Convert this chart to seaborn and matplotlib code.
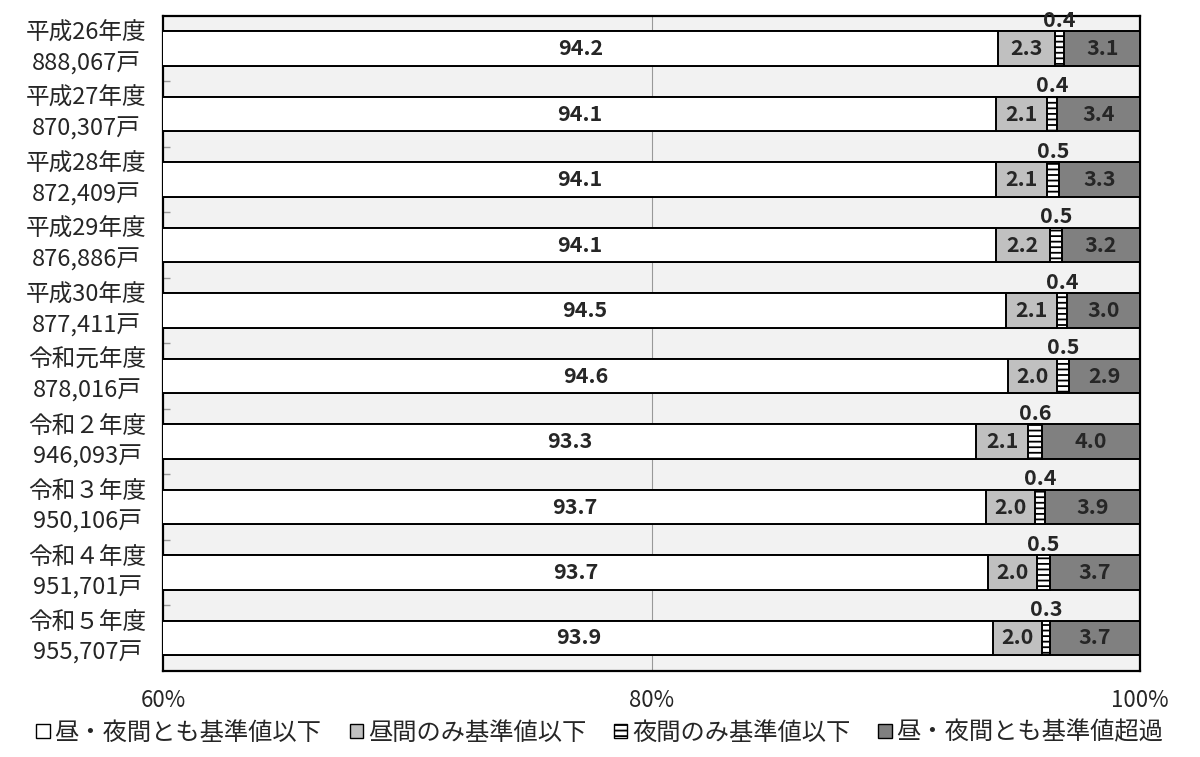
import matplotlib
matplotlib.use("Agg")
import matplotlib.pyplot as plt
from matplotlib.patches import Patch
import numpy as np
import seaborn as sns

years = ["平成26年度", "平成27年度", "平成28年度", "平成29年度", "平成30年度",
         "令和元年度", "令和２年度", "令和３年度", "令和４年度", "令和５年度"]
households = ["888,067戸", "870,307戸", "872,409戸", "876,886戸", "877,411戸",
              "878,016戸", "946,093戸", "950,106戸", "951,701戸", "955,707戸"]
both_below = [94.2, 94.1, 94.1, 94.1, 94.5, 94.6, 93.3, 93.7, 93.7, 93.9]
day_only = [2.3, 2.1, 2.1, 2.2, 2.1, 2.0, 2.1, 2.0, 2.0, 2.0]
night_only = [0.4, 0.4, 0.5, 0.5, 0.4, 0.5, 0.6, 0.4, 0.5, 0.3]
both_over = [3.1, 3.4, 3.3, 3.2, 3.0, 2.9, 4.0, 3.9, 3.7, 3.7]
series_names = ["昼・夜間とも基準値以下", "昼間のみ基準値以下", "夜間のみ基準値以下", "昼・夜間とも基準値超過"]
x_ticks = [60, 80, 100]

sns.set_theme(style="white")
plt.rcParams["font.family"] = ["Noto Sans CJK JP", "DejaVu Sans"]
plt.rcParams["hatch.linewidth"] = 1.3

labels = [f"{y}\n{h}" for y, h in zip(years, households)]
vals = np.array([both_below, day_only, night_only, both_over])
# 100% stacked, like the original: normalise each bar to its total
cum = np.cumsum(vals, axis=0) / vals.sum(axis=0) * 100

fig, ax = plt.subplots(figsize=(12, 7.57), dpi=100)
fig.subplots_adjust(left=0.136, right=0.95, top=0.979, bottom=0.114)
ax.set_facecolor("#f2f2f2")

colors = ["white", "#c0c0c0", "white", "#808080"]
hatches = [None, None, "---", None]
for k in [3, 2, 1, 0]:
    sns.barplot(x=cum[k], y=labels, orient="h", color=colors[k], saturation=1,
                edgecolor="black", linewidth=1.4, width=0.53, hatch=hatches[k],
                ax=ax, zorder=3)

ax.set_xlim(60, 100)
ax.set_xticks(x_ticks)
ax.set_xticklabels([f"{t}%" for t in x_ticks], fontsize=16)
ax.tick_params(axis="x", length=0, pad=13)
ax.axvline(80, color="#999999", lw=0.8, zorder=1)

ax.tick_params(axis="y", which="major", length=0, pad=12, labelsize=17)
for t in ax.get_yticklabels():
    t.set_multialignment("center")
    t.set_verticalalignment("center")
    t.set_linespacing(1.42)
ax.set_yticks(np.arange(len(years) - 1) + 0.5, minor=True)
ax.tick_params(axis="y", which="minor", direction="in", length=5, width=1,
               color="#999999", left=True)
ax.set_ylim(len(years) - 0.5, -0.5)
ax.set_xlabel("")
ax.set_ylabel("")

for s in ax.spines.values():
    s.set_color("black")
    s.set_linewidth(1.6)

fs = 15.5
for i in range(len(years)):
    lo = [60, cum[0][i], cum[1][i], cum[2][i]]
    hi = [cum[0][i], cum[1][i], cum[2][i], cum[3][i]]
    for k in [0, 1, 3]:
        ax.text((lo[k] + hi[k]) / 2, i, f"{vals[k][i]:.1f}", ha="center", va="center",
                fontsize=fs, fontweight="bold", zorder=5)
    ax.text((lo[2] + hi[2]) / 2, i - 0.43, f"{vals[2][i]:.1f}", ha="center", va="center",
            fontsize=fs, fontweight="bold", zorder=5)

handles = [Patch(facecolor=c, edgecolor="black", hatch=h, linewidth=1)
           for c, h in zip(colors, hatches)]
fig.legend(handles, series_names, loc="center", bbox_to_anchor=(0.5, 0.032), ncol=4,
           frameon=False, fontsize=17.5, handlelength=0.55, handleheight=0.55,
           handletextpad=0.2, columnspacing=1.15)

fig.savefig("out.png", dpi=100)
